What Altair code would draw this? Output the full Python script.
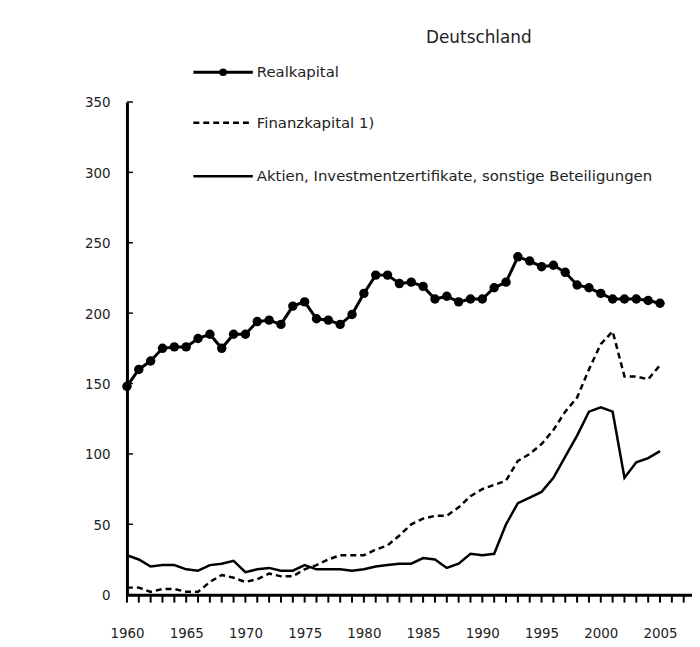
import altair as alt
import pandas as pd

years = list(range(1960, 2006))
realkapital = [148, 160, 166, 175, 176, 176, 182, 185, 175, 185,
               185, 194, 195, 192, 205, 208, 196, 195, 192, 199,
               214, 227, 227, 221, 222, 219, 210, 212, 208, 210,
               210, 218, 222, 240, 237, 233, 234, 229, 220, 218,
               214, 210, 210, 210, 209, 207]
finanzkapital = [5, 5, 2, 4, 4, 2, 2, 9, 14, 12,
                 9, 11, 15, 13, 13, 18, 21, 25, 28, 28,
                 28, 32, 35, 42, 50, 54, 56, 56, 62, 70,
                 75, 78, 81, 95, 100, 107, 117, 130, 140, 160,
                 178, 187, 155, 155, 153, 163]
aktien = [28, 25, 20, 21, 21, 18, 17, 21, 22, 24,
          16, 18, 19, 17, 17, 21, 18, 18, 18, 17,
          18, 20, 21, 22, 22, 26, 25, 19, 22, 29,
          28, 29, 50, 65, 69, 73, 83, 98, 113, 130,
          133, 130, 83, 94, 97, 102]
y_ticks = [0, 50, 100, 150, 200, 250, 300, 350]
x_ticks = list(range(1960, 2008))
x_labels = [1960, 1965, 1970, 1975, 1980, 1985, 1990, 1995, 2000, 2005]
series_names = ["Realkapital", "Finanzkapital 1)",
                "Aktien, Investmentzertifikate, sonstige Beteiligungen"]
title_text = "Deutschland"

rows = []
for name, vals in zip(series_names, [realkapital, finanzkapital, aktien]):
    for yr, v in zip(years, vals):
        rows.append({"Jahr": yr, "Serie": name, "Wert": v})
df = pd.DataFrame(rows)
yticks_df = pd.DataFrame({"Wert": y_ticks})
xticks_df = pd.DataFrame({"Jahr": x_ticks})
one = pd.DataFrame({"k": [0]})

FONT = "DejaVu Sans"
TICKFONT = "DejaVu Sans Condensed, Liberation Sans Narrow, DejaVu Sans"
xscale = alt.Scale(domain=[1960, 2007.7], nice=False, zero=False)
yscale = alt.Scale(domain=[0, 350], nice=False)

xaxis = alt.Axis(values=x_labels, format="d", ticks=False,
                 domainWidth=3, domainColor="black", labelFontSize=15,
                 labelPadding=31, labelColor="#222222", grid=False, title=None,
                 labelFont=TICKFONT, labelFlush=False, labelOverlap=False)
yaxis = alt.Axis(values=y_ticks, ticks=False, domainWidth=3, domainColor="black",
                 labelFontSize=15, labelPadding=17, labelColor="#222222", grid=False,
                 title=None, labelFont=TICKFONT, labelFlush=False, labelOverlap=False)

base = alt.Chart(df)
X = alt.X("Jahr:Q", scale=xscale, axis=xaxis)
Y = alt.Y("Wert:Q", scale=yscale, axis=yaxis)

real_line = base.transform_filter(alt.datum.Serie == series_names[0]).mark_line(
    color="black", strokeWidth=3).encode(x=X, y=Y)
real_pts = base.transform_filter(alt.datum.Serie == series_names[0]).mark_circle(
    color="black", size=90, opacity=1).encode(x=X, y=Y)
fin_line = base.transform_filter(alt.datum.Serie == series_names[1]).mark_line(
    color="black", strokeWidth=2.5, strokeDash=[6, 4]).encode(x=X, y=Y)
akt_line = base.transform_filter(alt.datum.Serie == series_names[2]).mark_line(
    color="black", strokeWidth=2.5).encode(x=X, y=Y)

inner_yticks = alt.Chart(yticks_df).mark_rule(color="black", strokeWidth=1.5).encode(
    x=alt.value(0), x2=alt.value(6), y=Y)
xticks = alt.Chart(xticks_df).mark_rule(color="black", strokeWidth=2).encode(
    x=X, y=alt.value(497), y2=alt.value(505))

# legend
leg1 = alt.Chart(one).mark_rule(color="black", strokeWidth=3).encode(
    x=alt.value(67), x2=alt.value(127), y=alt.value(-30))
leg1p = alt.Chart(one).mark_point(filled=True, color="black", size=60, opacity=1).encode(
    x=alt.value(97), y=alt.value(-30))
leg2 = alt.Chart(one).mark_rule(color="black", strokeWidth=2.5, strokeDash=[6, 4]).encode(
    x=alt.value(67), x2=alt.value(127), y=alt.value(21))
leg3 = alt.Chart(one).mark_rule(color="black", strokeWidth=2.5).encode(
    x=alt.value(67), x2=alt.value(127), y=alt.value(75))
txt_kw = dict(font=FONT, fontSize=15, align="left", baseline="middle", color="#222222")
t1 = alt.Chart(one).mark_text(text=series_names[0], **txt_kw).encode(
    x=alt.value(131), y=alt.value(-30))
t2 = alt.Chart(one).mark_text(text=series_names[1], **txt_kw).encode(
    x=alt.value(131), y=alt.value(21))
t3 = alt.Chart(one).mark_text(text=series_names[2], **txt_kw).encode(
    x=alt.value(131), y=alt.value(75))
title = alt.Chart(one).mark_text(text=title_text, font=FONT, fontSize=17, align="center",
                                 baseline="middle", color="#222222").encode(
    x=alt.value(355), y=alt.value(-65))

chart = alt.layer(
    fin_line, akt_line, real_line, real_pts, inner_yticks, xticks,
    leg1, leg1p, leg2, leg3, t1, t2, t3, title
).properties(
    width=570, height=497,
    autosize=alt.AutoSizeParams(type="none"),
    padding={"left": 120, "top": 92, "right": 0, "bottom": 50},
    background="white",
).configure_view(stroke=None)

chart.save("out.html", embed_options={"renderer": "svg", "actions": False})
